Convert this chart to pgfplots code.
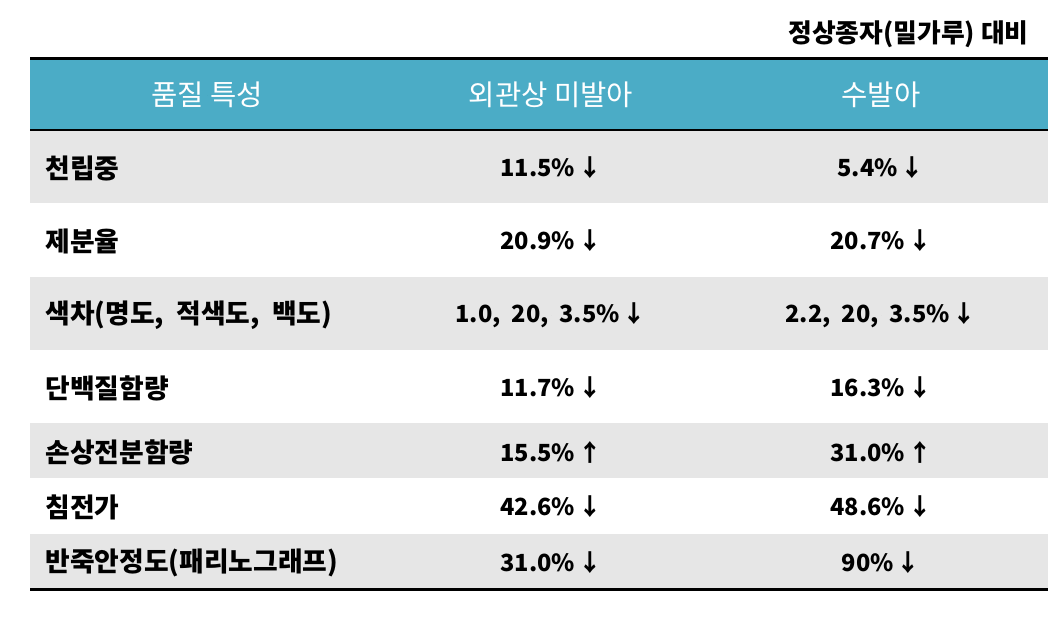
\documentclass[border=0pt]{standalone}
\usepackage{fontspec}
\setmainfont{Noto Sans CJK KR}
\usepackage{pgfplots}
\usepackage{pgfplotstable}
\pgfplotsset{compat=1.18}
\definecolor{hdr}{HTML}{4BACC6}
\definecolor{band}{HTML}{E6E6E6}
\newcommand{\dn}{\kern1.5pt↓}
\newcommand{\up}{\kern1.5pt↑}

% row labels (first column), pixel positions of the reference
\pgfplotstableread[col sep=semicolon, row sep=\\]{
x;y;label\\
45;168;천립중\\
45;241;제분율\\
45;315;색차(명도,\ \ 적색도,\ \ 백도)\\
45;388;단백질함량\\
45;452;손상전분함량\\
45;507;침전가\\
45;563;반죽안정도(패리노그래프)\\
}\rowlabels

% values, columns 2 and 3
\pgfplotstableread[col sep=semicolon, row sep=\\]{
x;y;label\\
551;168;11.5\%\dn\\
551;241;20.9\%\dn\\
551;315;1.0,\ \ 20,\ \ 3.5\%\dn\\
551;388;11.7\%\dn\\
551;452;15.5\%\up\\
551;507;42.6\%\dn\\
551;563;31.0\%\dn\\
881;168;5.4\%\dn\\
881;241;20.7\%\dn\\
881;315;2.2,\ \ 20,\ \ 3.5\%\dn\\
881;388;16.3\%\dn\\
881;452;31.0\%\up\\
881;507;48.6\%\dn\\
881;563;90\%\dn\\
}\cellvalues

\pgfplotstableread[col sep=semicolon, row sep=\\]{
x;y;label\\
207;95;품질 특성\\
551;95;외관상 미발아\\
881;95;수발아\\
}\headers

\begin{document}
\begin{tikzpicture}
\begin{axis}[scale only axis, width=532pt, height=318.5pt,
  xmin=0, xmax=1064, ymin=0, ymax=637, y dir=reverse,
  hide axis, clip=false,
  txt/.style={only marks, mark=*, mark size=0pt, mark options={draw=none, fill=none},
    nodes near coords, point meta=explicit symbolic}]
% background and bands
\addplot[fill=white, draw=none] coordinates {(0,0) (1064,0) (1064,637) (0,637)};
\addplot[fill=hdr, draw=none] coordinates {(30,58) (1048,58) (1048,130) (30,130)};
\addplot[fill=band, draw=none] coordinates {(30,130) (1048,130) (1048,203) (30,203)};
\addplot[fill=band, draw=none] coordinates {(30,277) (1048,277) (1048,350) (30,350)};
\addplot[fill=band, draw=none] coordinates {(30,423) (1048,423) (1048,478) (30,478)};
\addplot[fill=band, draw=none] coordinates {(30,534) (1048,534) (1048,588) (30,588)};
% rules
\addplot[black, line width=1.5pt] coordinates {(30,58) (1048,58)};
\addplot[black, line width=1.1pt] coordinates {(30,130) (1048,130)};
\addplot[black, line width=1.5pt] coordinates {(30,589) (1048,589)};
% text
\addplot[txt, every node near coord/.append style={anchor=center, text=white,
  font=\fontsize{14.3}{17}\selectfont}] table[x=x, y=y, meta=label]{\headers};
\addplot[txt, every node near coord/.append style={anchor=west, inner sep=0pt, text=black,
  font=\bfseries\fontsize{13.4}{16}\selectfont}] table[x=x, y=y, meta=label]{\rowlabels};
\addplot[txt, every node near coord/.append style={anchor=center, inner sep=0pt, text=black,
  font=\bfseries\fontsize{11.8}{14}\selectfont}] table[x=x, y=y, meta=label]{\cellvalues};
\addplot[txt, every node near coord/.append style={anchor=east, inner sep=0pt, text=black,
  font=\bfseries\fontsize{12.9}{15}\selectfont}] coordinates {(1029,34) [정상종자(밀가루) 대비]};
\end{axis}
\end{tikzpicture}
\end{document}
